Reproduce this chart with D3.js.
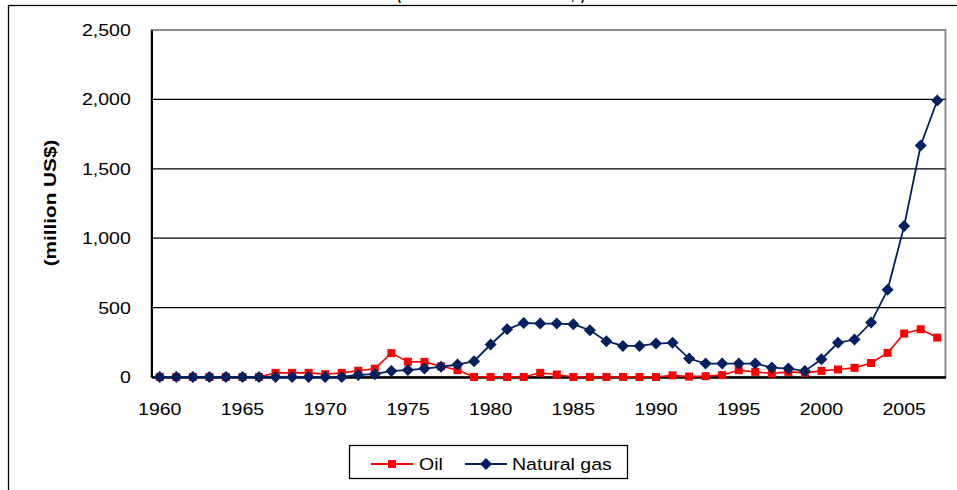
<!DOCTYPE html>
<html>
<head>
<meta charset="utf-8">
<script src="https://cdn.jsdelivr.net/npm/d3@7"></script>
<style>
  body { margin: 0; background: #fff; }
  svg { display: block; font-family: "Liberation Sans", Arial, sans-serif; }
</style>
</head>
<body>
<div id="chart"></div>
<script>
// values (million US$)
var years = d3.range(1960, 2008);
var oilValues = [0, 0, 0, 0, 0, 0, 0, 30, 30, 30,
                 20, 30, 45, 60, 172, 110, 109, 77, 50, 0,
                 0, 0, 0, 30, 18, 0, 0, 0, 0, 0,
                 0, 12, 3, 6, 14, 49, 37, 25, 37, 30,
                 44, 54, 66, 101, 174, 313, 344, 284];
var gasValues = [0, 0, 0, 0, 0, 0, 0, 0, 0, 0,
                 0, 0, 15, 20, 44, 50, 61, 73, 90, 114,
                 234, 344, 389, 385, 385, 380, 337, 258, 224, 224,
                 241, 246, 133, 97, 97, 97, 97, 68, 61, 44,
                 128, 246, 270, 392, 628, 1087, 1668, 1992];
var yTicks = [0, 500, 1000, 1500, 2000, 2500];
var xTickLabels = [1960, 1965, 1970, 1975, 1980, 1985, 1990, 1995, 2000, 2005];
var seriesNames = ["Oil", "Natural gas"];

var width = 957, height = 490;
var margin = {top: 30, right: 11.5, bottom: 113, left: 151.5};
var stretch = 'scale(1.15,1)';

var svg = d3.select('#chart').append('svg')
    .attr('width', width)
    .attr('height', height);

// outer chart border (runs off the right and bottom edge)
svg.append('rect')
    .attr('x', 8.5).attr('y', 5.5)
    .attr('width', 960).attr('height', 500)
    .style('fill', 'none').style('stroke', '#000').style('stroke-width', 1.3);

// title line, mostly above the top edge of the picture
svg.append('text')
    .attr('x', 491).attr('y', -1)
    .attr('text-anchor', 'middle')
    .attr('textLength', 188).attr('lengthAdjust', 'spacingAndGlyphs')
    .style('font-weight', 'bold').style('font-size', '19px')
    .text('(Oil and natural resource rents, I)');

var x = d3.scaleBand()
    .domain(years)
    .range([margin.left, width - margin.right]);

var y = d3.scaleLinear()
    .domain([0, 2500])
    .range([height - margin.bottom, margin.top]);

function cx(d, i) { return x(years[i]) + x.bandwidth() / 2; }

// plot area border
svg.append('rect')
    .attr('x', margin.left).attr('y', y(2500))
    .attr('width', width - margin.right - margin.left)
    .attr('height', y(0) - y(2500))
    .style('fill', 'none').style('stroke', '#8c8c8c').style('stroke-width', 2);

// gridlines
svg.append('g').selectAll('line')
    .data(yTicks.filter(function(d) { return d > 0 && d < 2500; }))
    .enter().append('line')
    .attr('x1', margin.left).attr('x2', width - margin.right)
    .attr('y1', function(d) { return y(d); }).attr('y2', function(d) { return y(d); })
    .style('stroke', '#000').style('stroke-width', 1.3);

// y axis
var yAxis = d3.axisLeft(y).tickValues(yTicks).tickSize(0).tickPadding(18)
    .tickFormat(d3.format(','));
var yG = svg.append('g')
    .attr('transform', 'translate(' + margin.left + ',0)')
    .call(yAxis);
yG.select('.domain').style('stroke', '#000').style('stroke-width', 2);
yG.selectAll('text')
    .attr('transform', stretch)
    .style('font-size', '17px').style('fill', '#000');

// x axis
var xAxis = d3.axisBottom(x).tickValues(xTickLabels).tickSize(0).tickPadding(26);
var xG = svg.append('g')
    .attr('transform', 'translate(0,' + y(0) + ')')
    .call(xAxis);
xG.select('.domain').style('stroke', '#000').style('stroke-width', 2.5);
xG.selectAll('text')
    .attr('transform', stretch)
    .style('font-size', '17px').style('fill', '#000');

// y axis title
svg.append('g')
    .attr('transform', 'translate(56,203) rotate(-90) scale(1.22,1)')
    .append('text')
    .attr('text-anchor', 'middle')
    .style('font-weight', 'bold').style('font-size', '17px')
    .text('(million US$)');

var line = d3.line()
    .x(cx)
    .y(function(d) { return y(d); });

var oilColor = '#ff0000', gasColor = '#002060';

// oil series
svg.append('path')
    .attr('d', line(oilValues))
    .style('fill', 'none').style('stroke', oilColor).style('stroke-width', 1.6);
svg.append('g').selectAll('rect')
    .data(oilValues)
    .enter().append('rect')
    .attr('x', function(d, i) { return cx(d, i) - 4; })
    .attr('y', function(d) { return y(d) - 4; })
    .attr('width', 8).attr('height', 8)
    .style('fill', oilColor);

// natural gas series
var diamond = d3.symbol().type(d3.symbolSquare).size(72);
svg.append('path')
    .attr('d', line(gasValues))
    .style('fill', 'none').style('stroke', gasColor).style('stroke-width', 1.8);
svg.append('g').selectAll('path')
    .data(gasValues)
    .enter().append('path')
    .attr('d', diamond)
    .attr('transform', function(d, i) { return 'translate(' + cx(d, i) + ',' + y(d) + ') rotate(45)'; })
    .style('fill', gasColor);

// legend
var legend = svg.append('g');
legend.append('rect')
    .attr('x', 349.5).attr('y', 445.5).attr('width', 278).attr('height', 33)
    .style('fill', '#fff').style('stroke', '#000').style('stroke-width', 1.3);

var legendItems = [
    {name: seriesNames[0], color: oilColor, x1: 371, x2: 413, tx: 419},
    {name: seriesNames[1], color: gasColor, x1: 465, x2: 507, tx: 512}
];
legendItems.forEach(function(item, i) {
    legend.append('line')
        .attr('x1', item.x1).attr('x2', item.x2)
        .attr('y1', 464).attr('y2', 464)
        .style('stroke', item.color).style('stroke-width', 1.8);
    var mx = (item.x1 + item.x2) / 2;
    if (i === 0) {
        legend.append('rect')
            .attr('x', mx - 4).attr('y', 464 - 4)
            .attr('width', 8).attr('height', 8)
            .style('fill', item.color);
    } else {
        legend.append('path')
            .attr('d', diamond)
            .attr('transform', 'translate(' + mx + ',464) rotate(45)')
            .style('fill', item.color);
    }
    legend.append('g')
        .attr('transform', 'translate(' + item.tx + ',470) ' + stretch)
        .append('text')
        .style('font-size', '17px')
        .text(item.name);
});
</script>
</body>
</html>
